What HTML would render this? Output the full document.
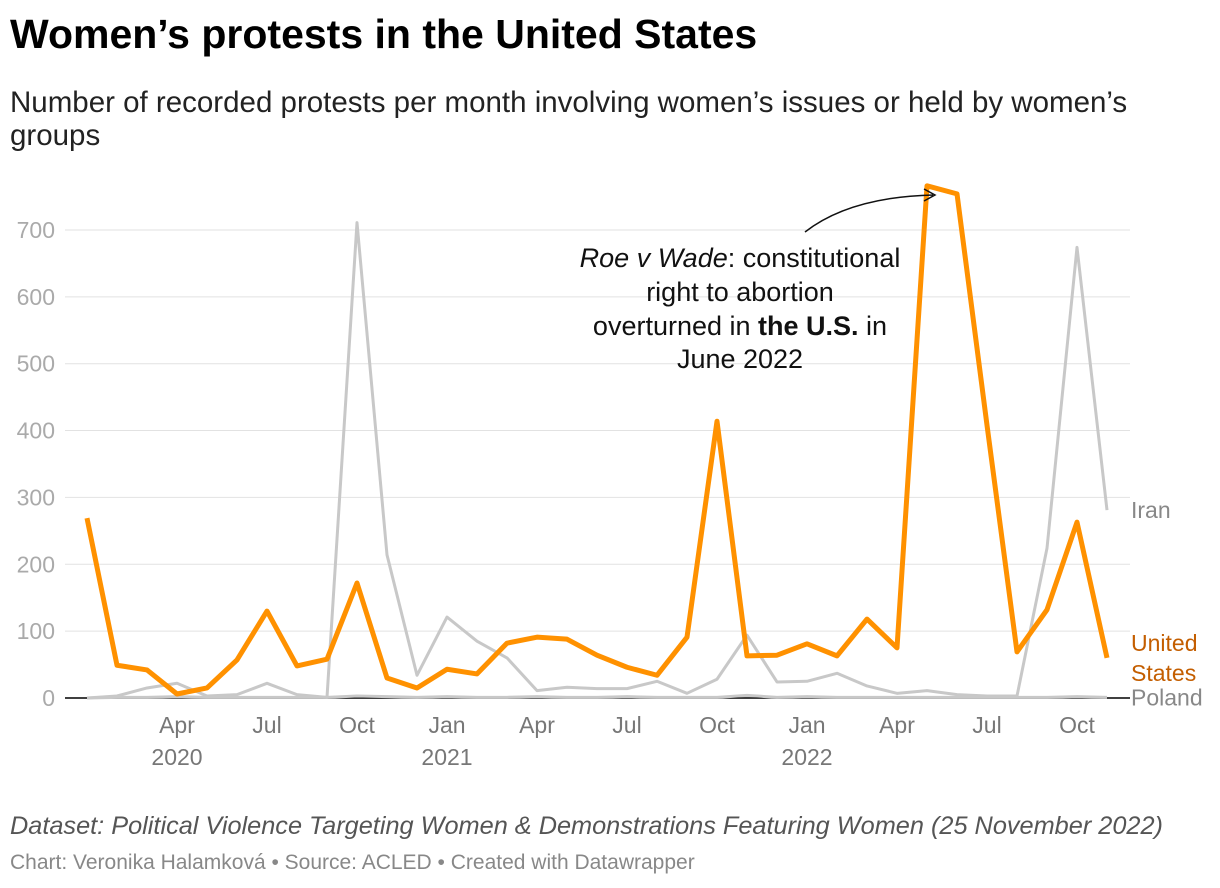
<!DOCTYPE html>
<html><head><meta charset="utf-8">
<style>
body{margin:0;width:1220px;height:888px;background:#fff;font-family:"Liberation Sans",sans-serif;overflow:hidden;position:relative}
.t{position:absolute;left:10px;top:11px;font-size:41px;font-weight:bold;color:#000;letter-spacing:0px}
.s{position:absolute;left:10px;top:86px;font-size:29.5px;line-height:33px;color:#222;width:1180px}
.f1{position:absolute;left:10px;top:812px;font-size:25.3px;font-style:italic;color:#555}
.f2{position:absolute;left:10px;top:851px;font-size:21px;color:#888}
svg{position:absolute;left:0;top:0}
</style></head><body>
<div class="t">Women’s protests in the United States</div>
<div class="s">Number of recorded protests per month involving women’s issues or held by women’s groups</div>
<div class="f1">Dataset: Political Violence Targeting Women &amp; Demonstrations Featuring Women (25 November 2022)</div>
<div class="f2">Chart: Veronika Halamková • Source: ACLED • Created with Datawrapper</div>
<svg id="c" width="1220" height="888"></svg>
<script>
const us=[269,49,42,6,15,57,130,48,58,172,30,15,43,36,82,91,88,64,46,34,91,414,63,64,81,63,118,75,766,754,408,69,132,263,60];
const iran=[0,3,15,22,3,5,22,5,1,711,214,34,121,85,60,11,16,14,14,25,7,28,94,24,25,37,18,7,11,5,3,3,224,674,281];
const poland=[0,1,1,2,1,1,1,1,1,3,2,1,2,1,1,2,1,1,2,1,1,1,4,1,2,1,1,1,1,1,1,1,1,2,1];
const yTicks=[0,100,200,300,400,500,600,700];
const xTicks=[{m:3,l:"Apr",y:"2020"},{m:6,l:"Jul"},{m:9,l:"Oct"},{m:12,l:"Jan",y:"2021"},{m:15,l:"Apr"},{m:18,l:"Jul"},{m:21,l:"Oct"},{m:24,l:"Jan",y:"2022"},{m:27,l:"Apr"},{m:30,l:"Jul"},{m:33,l:"Oct"}];
const svg=document.getElementById('c');const NS="http://www.w3.org/2000/svg";
const X=m=>87+m*30, Y=v=>698-v*0.6686;
function el(t,a,txt){const e=document.createElementNS(NS,t);for(const k in a)e.setAttribute(k,a[k]);if(txt!=null)e.textContent=txt;svg.appendChild(e);return e;}
yTicks.forEach(v=>{
 const g=el('line',{x1:65,x2:1130,y1:Y(v),y2:Y(v),stroke:v?'#e2e2e2':'#000','stroke-width':v?1:1.5});
 
 
 const t=el('text',{x:55,y:Y(v)+8,'text-anchor':'end','font-size':23,fill:'#aaa'},v);
 
 
});
xTicks.forEach(d=>{
 const t=el('text',{x:X(d.m),y:733,'text-anchor':'middle','font-size':23,fill:'#777'},d.l);
 
 
 if(d.y){const y=el('text',{x:X(d.m),y:765,'text-anchor':'middle','font-size':23,fill:'#777'},d.y);
 
 }
});
function line(arr,col,w,name){const p=el('polyline',{points:arr.map((v,i)=>X(i)+','+Y(v)).join(' '),fill:'none',stroke:col,'stroke-width':w,'stroke-linejoin':'round'});
 
 }
line(poland,'#c8c8c8',3,'poland-line');
line(iran,'#c8c8c8',3,'iran-line');
line(us,'#ff9100',5,'us-line');
const n=us.length-1;
[['Iran',iran[n],'#888'],['Poland',poland[n],'#888']].forEach(a=>{const t=el('text',{x:1131,y:Y(a[1])+8,'font-size':23,fill:a[2]},a[0]);
 
 });
const u=el('text',{x:1131,y:651,'font-size':23,fill:'#c45e00'});u.innerHTML='<tspan x="1131">United</tspan><tspan x="1131" dy="30">States</tspan>';


const an=el('text',{x:740,y:267,'text-anchor':'middle','font-size':27,fill:'#111'});
an.innerHTML='<tspan x="740"><tspan font-style="italic">Roe v Wade</tspan>: constitutional</tspan><tspan x="740" dy="34">right to abortion</tspan><tspan x="740" dy="34">overturned in <tspan font-weight="bold">the U.S.</tspan> in</tspan><tspan x="740" dy="33">June 2022</tspan>';


const ar=el('path',{d:'M805,232 Q850,197 933,195 M924,189 L935,195 L924,201',fill:'none',stroke:'#111','stroke-width':1.5});


</script>
</body></html>
